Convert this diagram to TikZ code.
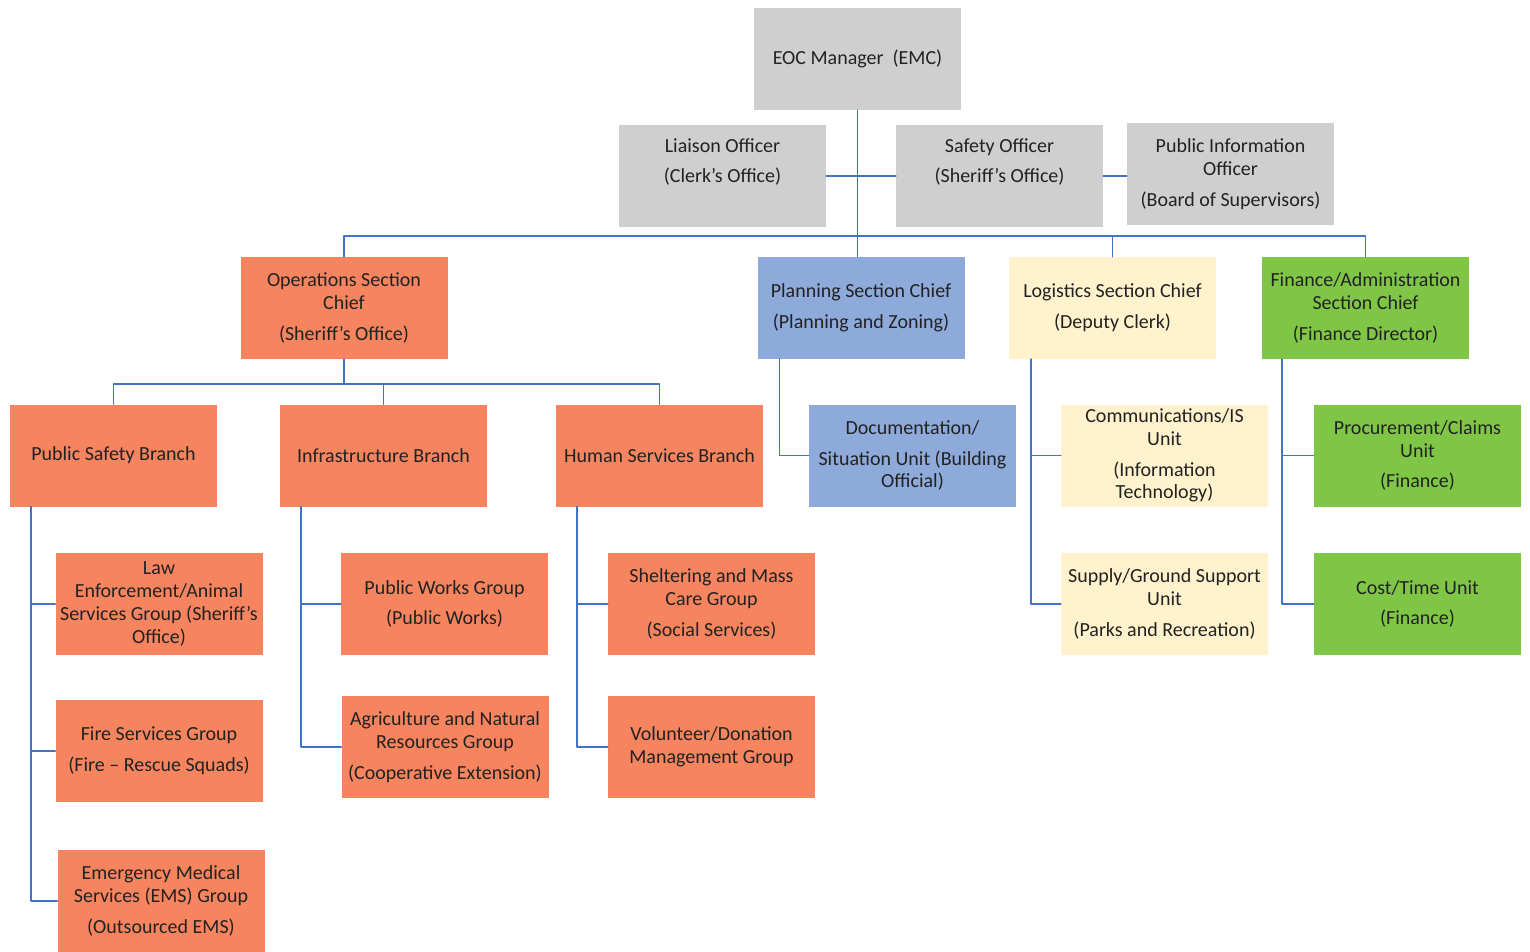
\documentclass[tikz,border=0pt]{standalone}
\usepackage{fontspec}
\setmainfont{Carlito}
\definecolor{cmdgray}{HTML}{D0CFCF}
\definecolor{opsred}{HTML}{F6845F}
\definecolor{planblue}{HTML}{8EAADB}
\definecolor{logcream}{HTML}{FFF2CC}
\definecolor{fingreen}{HTML}{80C646}
\definecolor{linkblue}{HTML}{4472C4}
\definecolor{textgray}{HTML}{222222}
\begin{document}
\begin{tikzpicture}[line cap=round, line join=round, x=1pt, y=-1pt,
    box/.style={minimum width=207pt, minimum height=102pt, inner sep=0pt, align=center,
                text=textgray, font=\fontsize{20}{22.7}\selectfont},
    cmdbox/.style={box, fill=cmdgray},
    opsbox/.style={box, fill=opsred},
    planbox/.style={box, fill=planblue},
    logbox/.style={box, fill=logcream},
    finbox/.style={box, fill=fingreen},
    link/.style={draw=linkblue, line width=1.6pt}]

    \useasboundingbox (0,0) rectangle (1530,951);

    % command staff
    \node[cmdbox] (emc) at (857.5,59) {EOC Manager\ \ (EMC)};
    \node[cmdbox] (liaison) at (722.5,176) {Liaison Officer\\[8pt](Clerk's Office)\\[8pt]\mbox{}};
    \node[cmdbox] (safety) at (999.5,176) {Safety Officer\\[8pt](Sheriff's Office)\\[8pt]\mbox{}};
    \node[cmdbox] (pio) at (1230.5,174) {Public Information\\Officer\\[8pt](Board of Supervisors)};

    % section chiefs
    \node[opsbox] (ops) at (344,308) {Operations Section\\Chief\\[8pt](Sheriff's Office)};
    \node[planbox] (plan) at (861,308) {Planning Section Chief\\[8pt](Planning and Zoning)};
    \node[logbox] (log) at (1112.5,308) {Logistics Section Chief\\[8pt](Deputy Clerk)};
    \node[finbox] (fin) at (1365.5,308) {Finance/Administration\\Section Chief\\[8pt](Finance Director)};

    % branches and units
    \node[opsbox] (psb) at (113.5,455.5) {Public Safety Branch};
    \node[opsbox] (isb) at (383.5,455.5) {Infrastructure Branch};
    \node[opsbox] (hsb) at (659.5,455.5) {Human Services Branch};
    \node[planbox] (doc) at (912.5,455.5) {Documentation/\\[8pt]Situation Unit (Building\\Official)};
    \node[logbox] (comm) at (1164.5,455.5) {Communications/IS\\Unit\\[8pt](Information\\Technology)};
    \node[logbox] (supply) at (1164.5,604) {Supply/Ground Support\\Unit\\[8pt](Parks and Recreation)};
    \node[finbox] (proc) at (1417.5,455.5) {Procurement/Claims\\Unit\\[8pt](Finance)};
    \node[finbox] (cost) at (1417.5,604) {Cost/Time Unit\\[8pt](Finance)};

    % groups
    \node[opsbox] (law) at (159,604) {Law\\Enforcement/Animal\\Services Group (Sheriff's\\Office)};
    \node[opsbox] (fire) at (159,751) {Fire Services Group\\[8pt](Fire -- Rescue Squads)};
    \node[opsbox] (ems) at (161,901) {Emergency Medical\\Services (EMS) Group\\[8pt](Outsourced EMS)};
    \node[opsbox] (pw) at (444.5,604) {Public Works Group\\[8pt](Public Works)};
    \node[opsbox] (agri) at (445,747) {Agriculture and Natural\\Resources Group\\[8pt](Cooperative Extension)};
    \node[opsbox] (shelter) at (711.5,604) {Sheltering and Mass\\Care Group\\[8pt](Social Services)};
    \node[opsbox] (vol) at (711.5,747) {Volunteer/Donation\\Management Group};

    \coordinate (bus) at (859,236);
    \coordinate (opsbus) at (345,384);

    \draw[link] (emc.south) -- (emc.south |- plan.north);
    \draw[link] (liaison.east) -- (safety.west);
    \draw[link] (safety.east) -- (safety.east -| pio.west);
    \draw[link] (ops.north) |- (bus) -| (fin.north);
    \draw[link] (log.north) -- (log.north |- bus);

    \draw[link] (ops.south) -- (ops.south |- opsbus);
    \draw[link] (psb.north) |- (opsbus) -| (hsb.north);
    \draw[link] (isb.north) -- (isb.north |- opsbus);

    \draw[link] ([xshift=21pt]psb.south west) |- (law.west);
    \draw[link] ([xshift=21pt]psb.south west) |- (fire.west);
    \draw[link] ([xshift=21pt]psb.south west) |- (ems.west);
    \draw[link] ([xshift=21pt]isb.south west) |- (pw.west);
    \draw[link] ([xshift=21pt]isb.south west) |- (agri.west);
    \draw[link] ([xshift=21pt]hsb.south west) |- (shelter.west);
    \draw[link] ([xshift=21pt]hsb.south west) |- (vol.west);

    \draw[link] ([xshift=22pt]plan.south west) |- (doc.west);
    \draw[link] ([xshift=22pt]log.south west) |- (comm.west);
    \draw[link] ([xshift=22pt]log.south west) |- (supply.west);
    \draw[link] ([xshift=20pt]fin.south west) |- (proc.west);
    \draw[link] ([xshift=20pt]fin.south west) |- (cost.west);

\end{tikzpicture}
\end{document}
